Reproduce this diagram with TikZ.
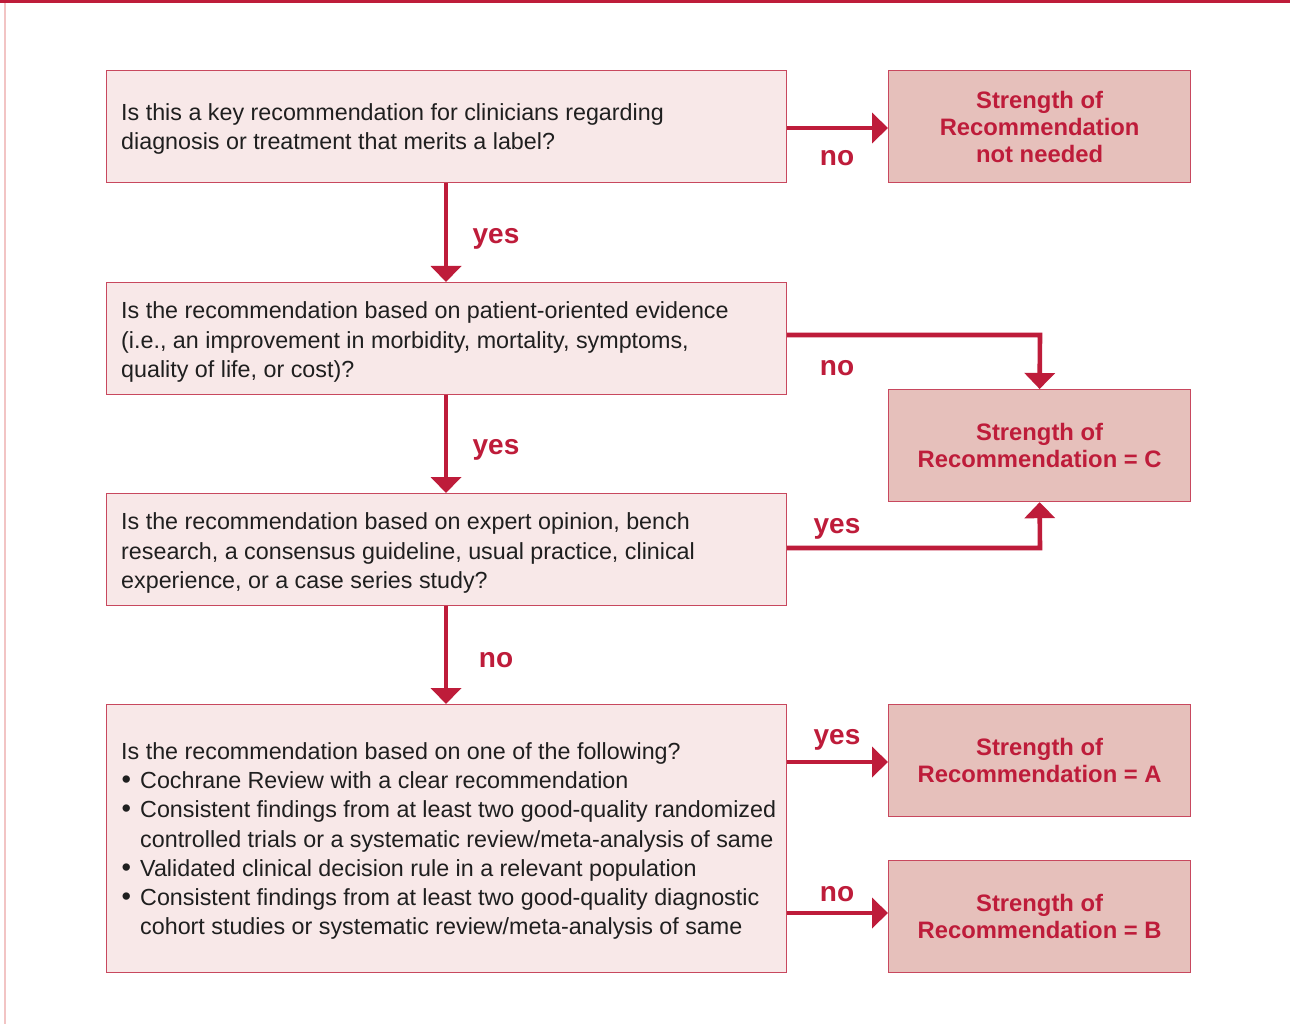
\documentclass[tikz,border=0pt]{standalone}
\usepackage{fontspec}
\setmainfont{Liberation Sans}
\usetikzlibrary{arrows.meta}
\definecolor{rred}{HTML}{BE1C3A}
\definecolor{qfill}{HTML}{F8E8E8}
\definecolor{rfill}{HTML}{E6C0BB}
\definecolor{bline}{HTML}{C8485E}
\definecolor{pinkline}{HTML}{F2C4C4}
\newcommand{\bul}{\makebox[19pt][l]{\hspace{0.5pt}{\fontsize{27}{0}\selectfont •}}}
\tikzset{
  qbox/.style={draw=bline, line width=1.2pt, fill=qfill},
  rbox/.style={draw=bline, line width=1.2pt, fill=rfill},
  qtext/.style={anchor=west, align=left, inner sep=0pt, font=\fontsize{23.3}{29.3}\selectfont, text=black!88},
  rtext/.style={align=center, inner sep=0pt, text=rred, font=\fontsize{23.8}{27}\selectfont\bfseries},
  lab/.style={text=rred, font=\fontsize{28}{30}\selectfont\bfseries, inner sep=0pt},
  arr/.style={draw=rred, line width=4.6pt, -{Triangle[width=30pt,length=16pt]}}
}
\begin{document}
\begin{tikzpicture}[x=1pt,y=-1pt]
\useasboundingbox (0,0) rectangle (1290,1024);
\fill[white] (0,0) rectangle (1290,1024);
\fill[rred] (0,0) rectangle (1290,3);
\fill[pinkline] (4,3) rectangle (6,1024);
% question boxes
\node[qbox, minimum width=680pt, minimum height=112pt, anchor=north west, inner sep=0pt] (q1) at (106,70) {};
\node[qbox, minimum width=680pt, minimum height=112pt, anchor=north west, inner sep=0pt] (q2) at (106,282) {};
\node[qbox, minimum width=680pt, minimum height=112pt, anchor=north west, inner sep=0pt] (q3) at (106,493) {};
\node[qbox, minimum width=680pt, minimum height=268pt, anchor=north west, inner sep=0pt] (q4) at (106,704) {};
% result boxes
\node[rbox, minimum width=302pt, minimum height=112pt, anchor=north west, inner sep=0pt] (r1) at (888,70) {};
\node[rbox, minimum width=302pt, minimum height=112pt, anchor=north west, inner sep=0pt] (rc) at (888,389) {};
\node[rbox, minimum width=302pt, minimum height=112pt, anchor=north west, inner sep=0pt] (ra) at (888,704) {};
\node[rbox, minimum width=302pt, minimum height=112pt, anchor=north west, inner sep=0pt] (rb) at (888,860) {};
% texts
\node[qtext] (t1) at (121,129) {Is this a key recommendation for clinicians regarding\\diagnosis or treatment that merits a label?};
\node[qtext] (t2) at (121,342) {Is the recommendation based on patient-oriented evidence\\(i.e., an improvement in morbidity, mortality, symptoms,\\quality of life, or cost)?};
\node[qtext] (t3) at (121,553) {Is the recommendation based on expert opinion, bench\\research, a consensus guideline, usual practice, clinical\\experience, or a case series study?};
\node[qtext] (t4) at (121,841) {Is the recommendation based on one of the following?\\
\bul Cochrane Review with a clear recommendation\\
\bul Consistent findings from at least two good-quality randomized\\
\hspace*{19pt}controlled trials or a systematic review/meta-analysis of same\\
\bul Validated clinical decision rule in a relevant population\\
\bul Consistent findings from at least two good-quality diagnostic\\
\hspace*{19pt}cohort studies or systematic review/meta-analysis of same};
\node[rtext] (s1) at (r1) {Strength of\\Recommendation\\not needed};
\node[rtext] (sc) at (rc) {Strength of\\Recommendation = C};
\node[rtext] (sa) at (ra) {Strength of\\Recommendation = A};
\node[rtext] (sb) at (rb) {Strength of\\Recommendation = B};
% connectors
\draw[arr] (q1.south -| 446,0) -- (q2.north -| 446,0);
\draw[arr] (q2.south -| 446,0) -- (q3.north -| 446,0);
\draw[arr] (q3.south -| 446,0) -- (q4.north -| 446,0);
\draw[arr] (q1.east |- 0,128) -- (r1.west |- 0,128);
\draw[arr] (q4.east |- 0,762) -- (ra.west |- 0,762);
\draw[arr] (q4.east |- 0,913) -- (rb.west |- 0,913);
\coordinate (k1) at (1040,335);
\coordinate (k2) at (1040,548);
\draw[arr] (q2.east |- k1) -- (k1) -- (rc.north);
\draw[arr] (q3.east |- k2) -- (k2) -- (rc.south);
% labels
\node[lab] (l1) at (496,239) {yes};
\node[lab] (l2) at (496,450) {yes};
\node[lab] (l3) at (496,660) {no};
\node[lab] (l4) at (837,158) {no};
\node[lab] (l5) at (837,368) {no};
\node[lab] (l6) at (837,529) {yes};
\node[lab] (l7) at (837,740) {yes};
\node[lab] (l8) at (837,894) {no};
\end{tikzpicture}
\end{document}
